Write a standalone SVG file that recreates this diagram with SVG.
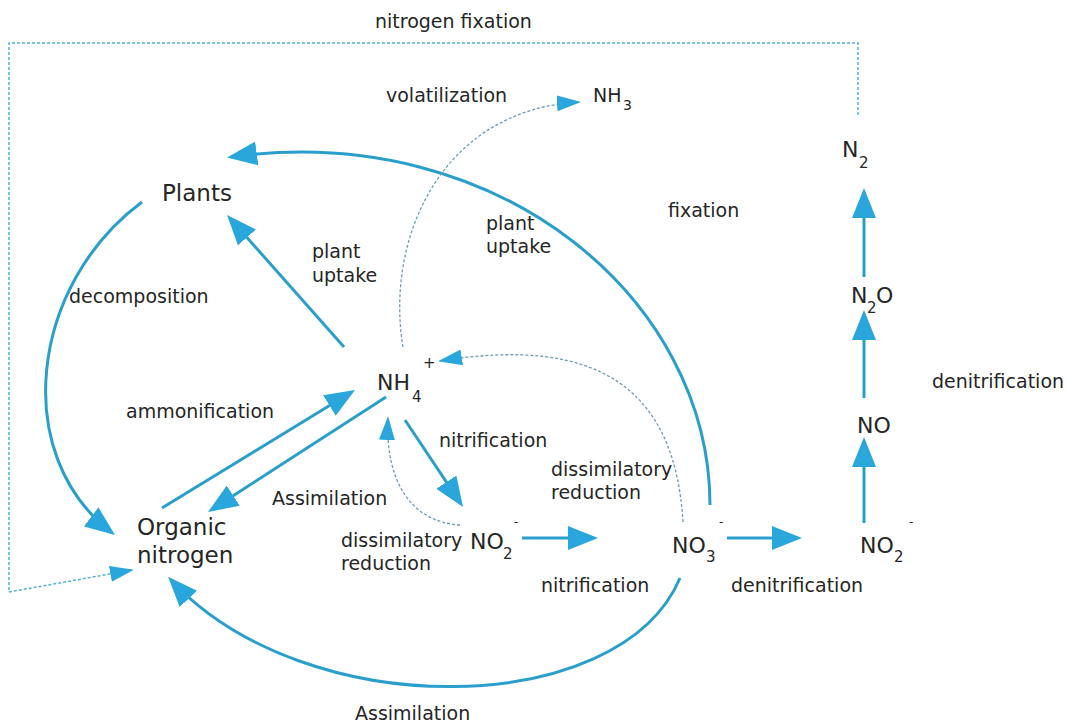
<svg xmlns="http://www.w3.org/2000/svg" width="1067" height="724" viewBox="0 0 1067 724">
<style>
  text { font-family: "DejaVu Sans", Verdana, sans-serif; fill: #262626; }
  .lbl { font-size: 19px; }
  .big { font-size: 23px; }
  .chem { font-size: 22px; }
  .sub { font-size: 15px; }
  .sup { font-size: 15px; }
  .solid { fill: none; stroke: #2b9fcb; stroke-width: 3; }
  .dash { fill: none; stroke: #6d9db3; stroke-width: 1.3; stroke-dasharray: 3 2; }
  .frame { fill: none; stroke: #55b1d4; stroke-width: 1.5; stroke-dasharray: 3 2; }
</style>
<defs>
  <marker id="head" markerUnits="userSpaceOnUse" viewBox="0 0 30 24" refX="26" refY="12" markerWidth="30" markerHeight="24" orient="auto">
    <path d="M0,0 L30,12 L0,24 Z" fill="#29a7dc"/>
  </marker>
  <marker id="dhead" markerUnits="userSpaceOnUse" viewBox="0 0 24 16" refX="22" refY="8" markerWidth="24" markerHeight="16" orient="auto">
    <path d="M0,0 L24,8 L0,16 Z" fill="#29a7dc"/>
  </marker>
</defs>
<rect width="1067" height="724" fill="#ffffff"/>

<g id="connectors">
  <!-- nitrogen fixation frame -->
  <path class="frame" d="M858,115 L858,43 L9,43 L9,592 L132,570" marker-end="url(#dhead)"/>
  <!-- NO3 to Plants (plant uptake) -->
  <path class="solid" d="M710,505 C710,300 500,120 231,157" marker-end="url(#head)"/>
  <!-- NH4 to Plants -->
  <path class="solid" d="M344,347 L229.7,218" marker-end="url(#head)"/>
  <!-- decomposition -->
  <path class="solid" d="M142,202 C30,285 10,455 111.8,532.6" marker-end="url(#head)"/>
  <!-- ammonification -->
  <path class="solid" d="M162,508 L351.6,392" marker-end="url(#head)"/>
  <!-- assimilation NH4 to organic -->
  <path class="solid" d="M386,397 L211.4,509.8" marker-end="url(#head)"/>
  <!-- nitrification NH4 to NO2 -->
  <path class="solid" d="M405,420 L460.8,503.7" marker-end="url(#head)"/>
  <!-- NO2 to NO3 -->
  <path class="solid" d="M522,538 L594,538" marker-end="url(#head)"/>
  <!-- NO3 to NO2 -->
  <path class="solid" d="M727,538 L798,538" marker-end="url(#head)"/>
  <!-- denitrification chain -->
  <path class="solid" d="M864,523 L864,441" marker-end="url(#head)"/>
  <path class="solid" d="M864,398 L864,314" marker-end="url(#head)"/>
  <path class="solid" d="M864,277 L864,192" marker-end="url(#head)"/>
  <!-- assimilation NO3 to organic -->
  <path class="solid" d="M680,578 C620,720 305,725 170.8,579.8" marker-end="url(#head)"/>
  <!-- volatilization -->
  <path class="dash" d="M403,347 C385,240 440,110 579,102" marker-end="url(#dhead)"/>
  <!-- dissimilatory reduction NO3 to NH4 -->
  <path class="dash" d="M683,522 C675,390 600,335 440,361" marker-end="url(#dhead)"/>
  <!-- dissimilatory reduction NO2 to NH4 -->
  <path class="dash" d="M460,525 C410,522 385,480 388,418" marker-end="url(#dhead)"/>
</g>

<g id="labels">
  <text class="lbl" x="375" y="28">nitrogen fixation</text>
  <text class="lbl" x="386" y="102">volatilization</text>
  <text class="lbl" x="486" y="230">plant</text>
  <text class="lbl" x="486" y="253">uptake</text>
  <text class="lbl" x="668" y="217">fixation</text>
  <text class="lbl" x="312" y="258">plant</text>
  <text class="lbl" x="312" y="282">uptake</text>
  <text class="lbl" x="69" y="303">decomposition</text>
  <text class="lbl" x="126" y="418">ammonification</text>
  <text class="lbl" x="932" y="388">denitrification</text>
  <text class="lbl" x="439" y="447">nitrification</text>
  <text class="lbl" x="551" y="476">dissimilatory</text>
  <text class="lbl" x="551" y="499">reduction</text>
  <text class="lbl" x="272" y="505">Assimilation</text>
  <text class="lbl" x="341" y="547">dissimilatory</text>
  <text class="lbl" x="341" y="570">reduction</text>
  <text class="lbl" x="541" y="592">nitrification</text>
  <text class="lbl" x="731" y="592">denitrification</text>
  <text class="lbl" x="355" y="720">Assimilation</text>
</g>

<g id="node-nh3">
  <text x="593" y="102" style="font-size:19px">NH</text>
  <text class="sub" x="623" y="110" style="font-size:14px">3</text>
</g>
<g id="node-plants">
  <text class="big" x="162" y="201">Plants</text>
</g>
<g id="node-n2">
  <text class="chem" x="842" y="157">N</text>
  <text class="sub" x="859" y="168">2</text>
</g>
<g id="node-n2o">
  <text class="chem" x="851" y="303">N</text>
  <text class="sub" x="867" y="313">2</text>
  <text class="chem" x="876" y="303">O</text>
</g>
<g id="node-nh4">
  <text class="chem" x="377" y="390">NH</text>
  <text class="sub" x="412" y="402">4</text>
  <text class="sup" x="423" y="368">+</text>
</g>
<g id="node-no">
  <text class="chem" x="857" y="433">NO</text>
</g>
<g id="node-organic">
  <text class="big" x="137" y="535">Organic</text>
  <text class="big" x="137" y="563">nitrogen</text>
</g>
<g id="node-no2-mid">
  <text class="chem" x="470" y="549">NO</text>
  <text class="sub" x="503" y="559">2</text>
  <text class="sup" x="514" y="526" style="font-size:12px">-</text>
</g>
<g id="node-no3">
  <text class="chem" x="672" y="553">NO</text>
  <text class="sub" x="706" y="562">3</text>
  <text class="sup" x="719" y="526" style="font-size:12px">-</text>
</g>
<g id="node-no2-right">
  <text class="chem" x="860" y="553">NO</text>
  <text class="sub" x="894" y="562">2</text>
  <text class="sup" x="909" y="526" style="font-size:12px">-</text>
</g>
</svg>
